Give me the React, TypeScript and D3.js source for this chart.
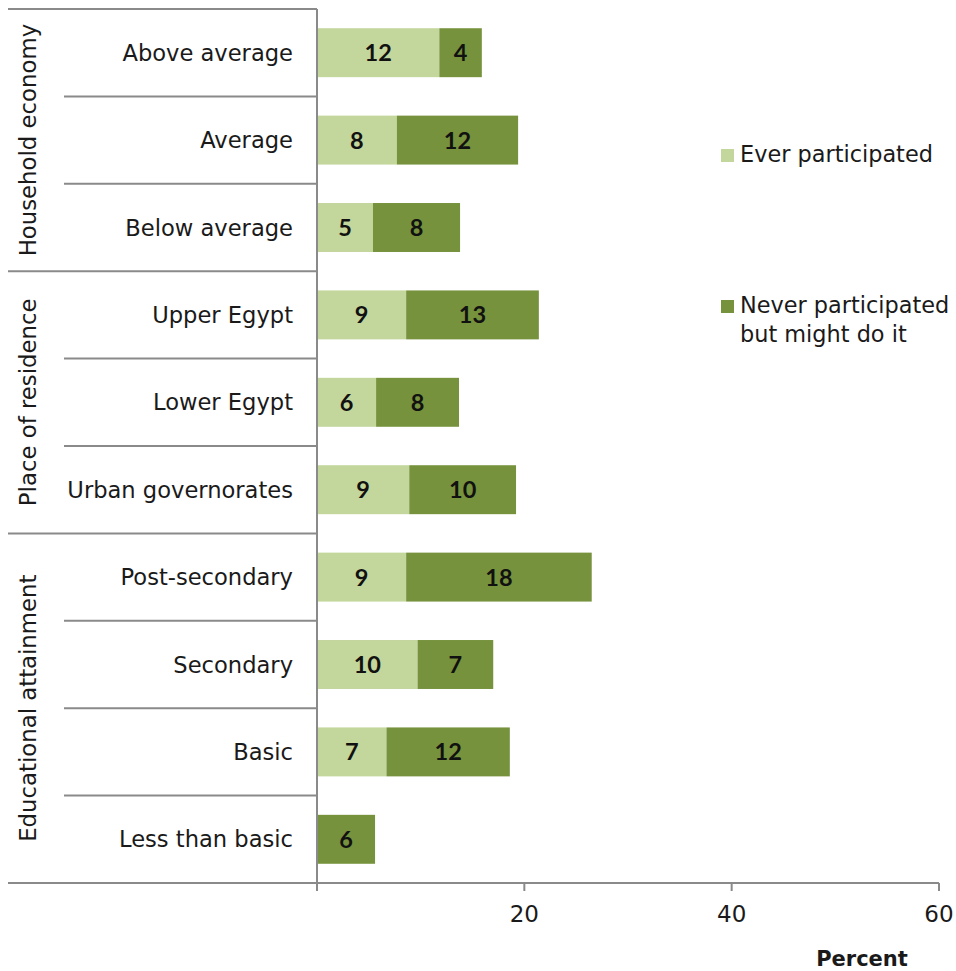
import React from "react";
import * as d3 from "d3";

// Categories, grouped top to bottom
const categories = [
  "Above average",
  "Average",
  "Below average",
  "Upper Egypt",
  "Lower Egypt",
  "Urban governorates",
  "Post-secondary",
  "Secondary",
  "Basic",
  "Less than basic",
];

const groupNames = ["Household economy", "Place of residence", "Educational attainment"];
const groupSizes = [3, 3, 4];

// Percent of respondents
const everParticipated = [11.8, 7.7, 5.4, 8.6, 5.7, 8.9, 8.6, 9.7, 6.7, 0];
const neverButMight = [4.1, 11.7, 8.4, 12.8, 8.0, 10.3, 17.9, 7.3, 11.9, 5.6];

const seriesNames = ["Ever participated", "Never participated\nbut might do it"];
const seriesColors = ["#c3d69b", "#76923c"];

const xTicks = [20, 40, 60];
const xTitle = "Percent";

const W = 956;
const H = 971;
const FONT = "'DejaVu Sans', sans-serif";
const LINE = "#8a8a8a";

export default function App() {
  const x = d3.scaleLinear().domain([0, 60]).range([317, 939]);
  const y = d3
    .scaleBand<string>()
    .domain(categories)
    .range([9, 883])
    .paddingInner(0.44)
    .paddingOuter(0.22);
  const step = y.step();
  const top = y.range()[0];
  const bottom = y.range()[1];
  const edge = (i: number) => top + step * i;

  const series = [everParticipated, neverButMight];
  const stack = categories.map((c, i) => {
    let acc = 0;
    return series.map((s, k) => {
      const v = s[i];
      const seg = { k, v, x0: acc, x1: acc + v };
      acc += v;
      return seg;
    });
  });

  // group boundaries
  const groupStarts: number[] = [];
  let cum = 0;
  groupSizes.forEach((n) => {
    groupStarts.push(cum);
    cum += n;
  });

  const leftEdge = 8;
  const subLeft = 64;
  const x0 = x(0);

  return (
    <svg
      width={W}
      height={H}
      style={{ position: "absolute", left: 0, top: 0, background: "#fff" }}
      fontFamily={FONT}
    >
      {/* bars */}
      {categories.map((c, i) =>
        stack[i].map((seg) =>
          seg.v > 0 ? (
            <g key={c + seg.k}>
              <rect
                x={x(seg.x0)}
                y={y(c)}
                width={x(seg.x1) - x(seg.x0)}
                height={y.bandwidth()}
                fill={seriesColors[seg.k]}
              />
              <text
                x={(x(seg.x0) + x(seg.x1)) / 2}
                y={(y(c) as number) + y.bandwidth() / 2}
                dy="0.36em"
                textAnchor="middle"
                fontFamily="Lato, sans-serif"
                fontWeight={700}
                fontSize={23.5}
                fill="#111"
              >
                {d3.format(".0f")(seg.v)}
              </text>
            </g>
          ) : null
        )
      )}

      {/* left frame: top line, group separators, sub separators */}
      <line x1={leftEdge} x2={x0} y1={top} y2={top} stroke={LINE} strokeWidth={2} />
      {groupStarts.slice(1).map((s) => (
        <line key={"g" + s} x1={leftEdge} x2={x0} y1={edge(s)} y2={edge(s)} stroke={LINE} strokeWidth={2} />
      ))}
      {categories.map((c, i) => {
        if (i === 0 || groupStarts.includes(i)) return null;
        return <line key={"s" + i} x1={subLeft} x2={x0} y1={edge(i)} y2={edge(i)} stroke={LINE} strokeWidth={2} />;
      })}

      {/* axes */}
      <line x1={leftEdge} x2={x(60)} y1={bottom} y2={bottom} stroke={LINE} strokeWidth={2} />
      <line x1={x0} x2={x0} y1={top} y2={bottom + 8} stroke={LINE} strokeWidth={2} />
      {xTicks.map((t) => (
        <g key={t}>
          <line x1={x(t)} x2={x(t)} y1={bottom} y2={bottom + 8} stroke={LINE} strokeWidth={2} />
          <text x={x(t)} y={bottom + 39} textAnchor="middle" fontSize={23} fill="#1a1a1a">
            {t}
          </text>
        </g>
      ))}
      <text x={862} y={966} textAnchor="middle" fontSize={21} fontWeight={700} fill="#1a1a1a">
        {xTitle}
      </text>

      {/* category labels */}
      {categories.map((c) => (
        <text
          key={c}
          x={293}
          y={(y(c) as number) + y.bandwidth() / 2}
          dy="0.36em"
          textAnchor="end"
          fontSize={22.6}
          fill="#1a1a1a"
        >
          {c}
        </text>
      ))}

      {/* group labels */}
      {groupNames.map((g, gi) => {
        const s = groupStarts[gi];
        const cy = (edge(s) + edge(s + groupSizes[gi])) / 2;
        return (
          <text
            key={g}
            transform={`translate(36,${cy}) rotate(-90)`}
            textAnchor="middle"
            fontSize={22.8}
            fill="#1a1a1a"
          >
            {g}
          </text>
        );
      })}

      {/* legend */}
      {seriesNames.map((name, k) => {
        const base = k === 0 ? 162 : 313;
        const lines = name.split("\n");
        return (
          <g key={name}>
            <rect x={721} y={base - 13} width={13} height={13} fill={seriesColors[k]} />
            {lines.map((ln, j) => (
              <text key={j} x={740} y={base + j * 29} fontSize={22.4} fill="#1a1a1a">
                {ln}
              </text>
            ))}
          </g>
        );
      })}
    </svg>
  );
}
